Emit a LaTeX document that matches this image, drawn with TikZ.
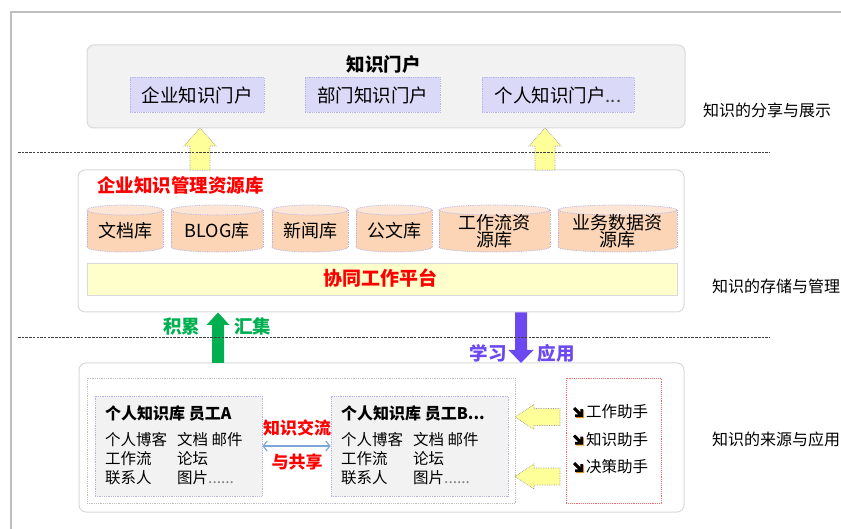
\documentclass[tikz,border=0pt]{standalone}
\usepackage{fontspec}
\setmainfont{Noto Sans CJK SC}
\usetikzlibrary{arrows.meta,calc}
\definecolor{panelgray}{HTML}{F2F2F2}
\definecolor{panelline}{HTML}{D9D9D9}
\definecolor{portalfill}{HTML}{DADAF8}
\definecolor{lavline}{HTML}{B4B4E6}
\definecolor{cylbodyc}{HTML}{FBD5B5}
\definecolor{cyltopc}{HTML}{FDE6D6}
\definecolor{platfill}{HTML}{FFFFCC}
\definecolor{yel}{HTML}{FFFF99}
\definecolor{grn}{HTML}{00B050}
\definecolor{purp}{HTML}{6B48F0}
\definecolor{redc}{HTML}{FF0000}
\definecolor{blueline}{HTML}{7DA7D9}
\definecolor{framec}{HTML}{BFBFBF}
\definecolor{dotgray}{HTML}{BFBFBF}
\definecolor{iconshadow}{HTML}{F0A030}
\newcommand\myfs[2]{\fontsize{#1pt}{#2pt}\selectfont}
\newcommand\cyltopy{210}
\newcommand\cylboty{247}
\newcommand\dbcyl[4]{%
  \pgfmathsetmacro\cylcx{(#2+#3)/2}%
  \pgfmathsetmacro\cylrx{(#3-#2)/2}%
  \fill[cylbodyc] (\cylcx,\cylboty) ellipse[x radius=\cylrx, y radius=5];
  \draw[cylline] (\cylcx,\cylboty) ellipse[x radius=\cylrx, y radius=5];
  \fill[cylbodyc] (#2,\cyltopy) rectangle (#3,\cylboty);
  \draw[cylline] (#2,\cyltopy) -- (#2,\cylboty) (#3,\cyltopy) -- (#3,\cylboty);
  \filldraw[cylline, fill=cyltopc] (\cylcx,\cyltopy) ellipse[x radius=\cylrx, y radius=5];
  \node[cyltext] (#1) at (\cylcx,231) {#4};
}
% heavy south-east arrow icon centred at (x,y); y grows downwards
\newcommand\seiconpath{(-5,-2.8) -- (-2.8,-5) -- (2.4,0.2) -- (2.4,-3) -- (5,-3) -- (5,5) -- (-3,5) -- (-3,2.4) -- (0.2,2.4) -- cycle}
\newcommand\seicon[2]{%
  \fill[iconshadow, shift={(#1+1,#2+1)}] \seiconpath;
  \fill[black, shift={(#1,#2)}] \seiconpath;
}
\begin{document}
\begin{tikzpicture}[x=1pt,y=-1pt,
  panel/.style={draw=panelline, line width=1pt, rounded corners=7pt, inner sep=0pt},
  portal/.style={draw=lavline, densely dotted, line width=0.8pt, fill=portalfill, inner sep=0pt, minimum height=35pt, font=\myfs{18.5}{20}},
  cylline/.style={draw=lavline, densely dotted, line width=0.8pt},
  cyltext/.style={font=\myfs{18}{18}, align=center, inner sep=0pt},
  yarrow/.style={fill=yel, draw=gray!80, densely dotted, line width=0.7pt},
  staffbox/.style={draw=lavline, densely dotted, line width=0.8pt, fill=panelgray, inner sep=0pt, minimum height=100pt},
  sidelabel/.style={font=\myfs{16}{16}, inner sep=0pt},
  sepline/.style={draw=black!75, line width=1pt, dash pattern=on 2.5pt off 1.2pt},
  redbold/.style={text=redc, font=\bfseries\myfs{17}{17}, inner sep=0pt},
  helper/.style={anchor=west, inner sep=0pt, font=\myfs{15.5}{16}},
]
\useasboundingbox (0,0) rectangle (841,529);
% outer frame
\draw[framec, line width=1.2pt] (11,529) -- (11,12) -- (841,12);

% ---------- top panel ----------
\node[panel, fill=panelgray, minimum width=598pt, minimum height=83pt] (toppanel) at (386,86.5) {};
\node[font=\bfseries\myfs{18.5}{19}, inner sep=0pt] (toptitle) at (383.5,64) {知识门户};
\node[portal, minimum width=134pt] (p1) at (197,95) {企业知识门户};
\node[portal, minimum width=135pt] (p2) at (372.5,95) {部门知识门户};
\node[portal, minimum width=152pt] (p3) at (558,95) {个人知识门户{\color{darkgray}...}};

% ---------- middle panel ----------
\node[panel, fill=white, minimum width=606pt, minimum height=142pt] (midpanel) at (381,241) {};
\node[anchor=west, text=redc, font=\bfseries\myfs{18.5}{19}, inner sep=0pt] (midtitle) at (97,185.5) {企业知识管理资源库};
\dbcyl{c1}{87}{163}{文档库}
\dbcyl{c2}{171}{263}{BLOG库}
\dbcyl{c3}{272}{348}{新闻库}
\dbcyl{c4}{356}{432}{公文库}
\dbcyl{c5}{439}{550}{工作流资\\[-1pt]源库}
\dbcyl{c6}{558}{677}{业务数据资\\[-1pt]源库}
\node[draw=panelline, line width=0.8pt, fill=platfill, minimum width=590pt, minimum height=32pt, inner sep=0pt] (platform) at (382,279) {};
\node[text=redc, font=\bfseries\myfs{19}{19}, inner sep=0pt] (platlabel) at (380.5,278.5) {协同工作平台};

% ---------- bottom panel ----------
\node[panel, fill=white, minimum width=605pt, minimum height=149pt] (botpanel) at (381.5,437.5) {};
\node[draw=dotgray, densely dotted, line width=0.8pt, minimum width=428pt, minimum height=125pt, inner sep=0pt] (staffarea) at (301,441) {};
\node[staffbox, minimum width=167pt] (boxA) at (178.5,446) {};
\node[staffbox, minimum width=177pt] (boxB) at (419.5,446) {};
\node[anchor=west, inner sep=0pt, font=\bfseries\myfs{16}{16}] (Atitle) at (105,413) {个人知识库 员工A};
\node[anchor=west, inner sep=0pt, font=\bfseries\myfs{16}{16}] (Btitle) at (341,413) {个人知识库 员工B...};
\node[anchor=west, inner sep=0pt, font=\myfs{15.5}{19}] (Abody) at (105,461)
  {\begin{tabular}{@{}p{72pt}@{}l@{}}个人博客 & 文档 邮件\\ 工作流 & 论坛\\ 联系人 & 图片{\color{gray}......}\end{tabular}};
\node[anchor=west, inner sep=0pt, font=\myfs{15.5}{19}] (Bbody) at (341,461)
  {\begin{tabular}{@{}p{72pt}@{}l@{}}个人博客 & 文档 邮件\\ 工作流 & 论坛\\ 联系人 & 图片{\color{gray}......}\end{tabular}};
\draw[blueline, line width=1.2pt, {Straight Barb[length=4pt,width=10pt]}-{Straight Barb[length=4pt,width=10pt]}] (boxA.east) -- (boxB.west);
\node[redbold] (xchg1) at (297,427.5) {知识交流};
\node[redbold] (xchg2) at (297,462) {与共享};

\node[draw=redc!60, densely dotted, line width=0.9pt, minimum width=95pt, minimum height=125pt, inner sep=0pt] (helpbox) at (613.5,440.5) {};
\seicon{578}{412}
\seicon{578}{439.5}
\seicon{578}{467}
\node[helper] (h1) at (586,412) {工作助手};
\node[helper] (h2) at (586,439.5) {知识助手};
\node[helper] (h3) at (586,467) {决策助手};

% left yellow arrows (helpers -> staff area)
\draw[yarrow] (515,417) -- (534,404.5) -- (534,408.5) -- (560,408.5) -- (560,425.5) -- (534,425.5) -- (534,429.5) -- cycle;
\draw[yarrow] (515,476.5) -- (534,464) -- (534,468) -- (560,468) -- (560,485) -- (534,485) -- (534,489) -- cycle;

% yellow up arrows (middle -> top)
\draw[yarrow] (200,128) -- (216,146) -- (210,146) -- (210,170) -- (190,170) -- (190,146) -- (184,146) -- cycle;
\draw[yarrow] (545,128) -- (561,146) -- (555,146) -- (555,170) -- (535,170) -- (535,146) -- (529,146) -- cycle;

% green up arrow
\fill[grn] (218,312.5) -- (229.5,325) -- (224,325) -- (224,363) -- (212,363) -- (212,325) -- (206.5,325) -- cycle;
\node[text=grn, font=\bfseries\myfs{18.5}{19}, inner sep=0pt] (acc) at (181.5,326.5) {积累};
\node[text=grn, font=\bfseries\myfs{18.5}{19}, inner sep=0pt] (gat) at (252.5,326.5) {汇集};

% purple down arrow
\fill[purp] (515,312.5) -- (527,312.5) -- (527,350) -- (533.5,350) -- (521,363) -- (508.5,350) -- (515,350) -- cycle;
\node[text=purp, font=\bfseries\myfs{18.5}{19}, inner sep=0pt] (learn) at (488,353) {学习};
\node[text=purp, font=\bfseries\myfs{18.5}{19}, inner sep=0pt] (apply) at (556,353) {应用};

% separators
\draw[sepline] (18,153) -- (770,153);
\draw[sepline] (18,337.5) -- (770,337.5);

% right side labels
\node[sidelabel] (lab1) at (767,110) {知识的分享与展示};
\node[sidelabel] (lab2) at (776,286) {知识的存储与管理};
\node[sidelabel] (lab3) at (776,439) {知识的来源与应用};
\end{tikzpicture}
\end{document}
